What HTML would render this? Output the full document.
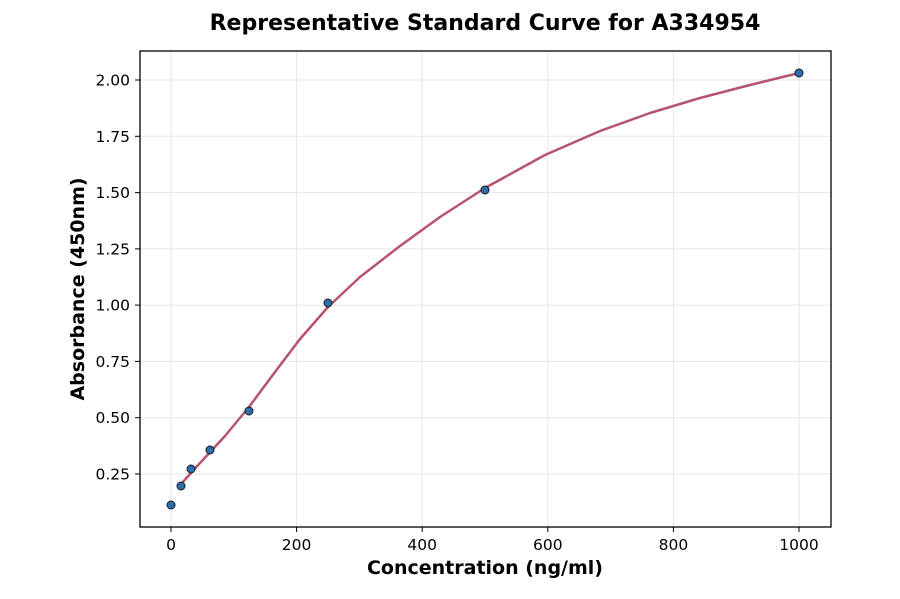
<!DOCTYPE html>
<html><head><meta charset="utf-8"><style>
body{margin:0;background:#fff;}
svg text{font-family:"DejaVu Sans","Liberation Sans",sans-serif;}
</style></head><body>
<svg width="900" height="594" xmlns="http://www.w3.org/2000/svg">
<rect width="900" height="594" fill="#fff"/>
<text x="485" y="30" text-anchor="middle" font-size="22" font-weight="bold">Representative Standard Curve for A334954</text>
<g stroke="#e6e6e6" stroke-width="1">
<line x1="171" y1="51" x2="171" y2="527"/><line x1="296.6" y1="51" x2="296.6" y2="527"/><line x1="422.2" y1="51" x2="422.2" y2="527"/><line x1="547.8" y1="51" x2="547.8" y2="527"/><line x1="673.4" y1="51" x2="673.4" y2="527"/><line x1="799" y1="51" x2="799" y2="527"/>
<line x1="140" y1="474" x2="831" y2="474"/><line x1="140" y1="417.7" x2="831" y2="417.7"/><line x1="140" y1="361.4" x2="831" y2="361.4"/><line x1="140" y1="305.1" x2="831" y2="305.1"/><line x1="140" y1="248.9" x2="831" y2="248.9"/><line x1="140" y1="192.6" x2="831" y2="192.6"/><line x1="140" y1="136.3" x2="831" y2="136.3"/><line x1="140" y1="80" x2="831" y2="80"/>
</g>
<rect x="140" y="51" width="691" height="476" fill="none" stroke="#000" stroke-width="1.3"/>
<g stroke="#000" stroke-width="1">
<line x1="171" y1="527" x2="171" y2="532"/><line x1="296.6" y1="527" x2="296.6" y2="532"/><line x1="422.2" y1="527" x2="422.2" y2="532"/><line x1="547.8" y1="527" x2="547.8" y2="532"/><line x1="673.4" y1="527" x2="673.4" y2="532"/><line x1="799" y1="527" x2="799" y2="532"/>
<line x1="135" y1="474" x2="140" y2="474"/><line x1="135" y1="417.7" x2="140" y2="417.7"/><line x1="135" y1="361.4" x2="140" y2="361.4"/><line x1="135" y1="305.1" x2="140" y2="305.1"/><line x1="135" y1="248.9" x2="140" y2="248.9"/><line x1="135" y1="192.6" x2="140" y2="192.6"/><line x1="135" y1="136.3" x2="140" y2="136.3"/><line x1="135" y1="80" x2="140" y2="80"/>
</g>
<g font-size="15.5" text-anchor="middle">
<text x="171" y="550">0</text><text x="296.6" y="550">200</text><text x="422.2" y="550">400</text><text x="547.8" y="550">600</text><text x="673.4" y="550">800</text><text x="799" y="550">1000</text>
</g>
<g font-size="15.5" text-anchor="end">
<text x="130" y="479.5">0.25</text><text x="130" y="423.2">0.50</text><text x="130" y="366.9">0.75</text><text x="130" y="310.6">1.00</text><text x="130" y="254.4">1.25</text><text x="130" y="198.1">1.50</text><text x="130" y="141.8">1.75</text><text x="130" y="85.5">2.00</text>
</g>
<text x="485" y="574" text-anchor="middle" font-size="19" font-weight="bold">Concentration (ng/ml)</text>
<text transform="translate(84,289) rotate(-90)" text-anchor="middle" font-size="19" font-weight="bold">Absorbance (450nm)</text>
<polyline fill="none" stroke="#b5546a" stroke-width="2.5" stroke-linejoin="round" points="181,484 200,463 225,436 249,407 275,372 300,339 328,307 360,277 400,246 440,217 485,188 545,155 600,131 650,113 700,98 750,85 799,73"/>
<g fill="#2b6fae" stroke="#1a1a1a" stroke-width="1">
<circle cx="171" cy="505" r="4"/><circle cx="181" cy="486" r="4"/><circle cx="191" cy="469" r="4"/><circle cx="210" cy="450" r="4"/><circle cx="249" cy="411" r="4"/><circle cx="328" cy="303" r="4"/><circle cx="485" cy="190" r="4"/><circle cx="799" cy="73" r="4"/>
</g>
</svg>
</body></html>
